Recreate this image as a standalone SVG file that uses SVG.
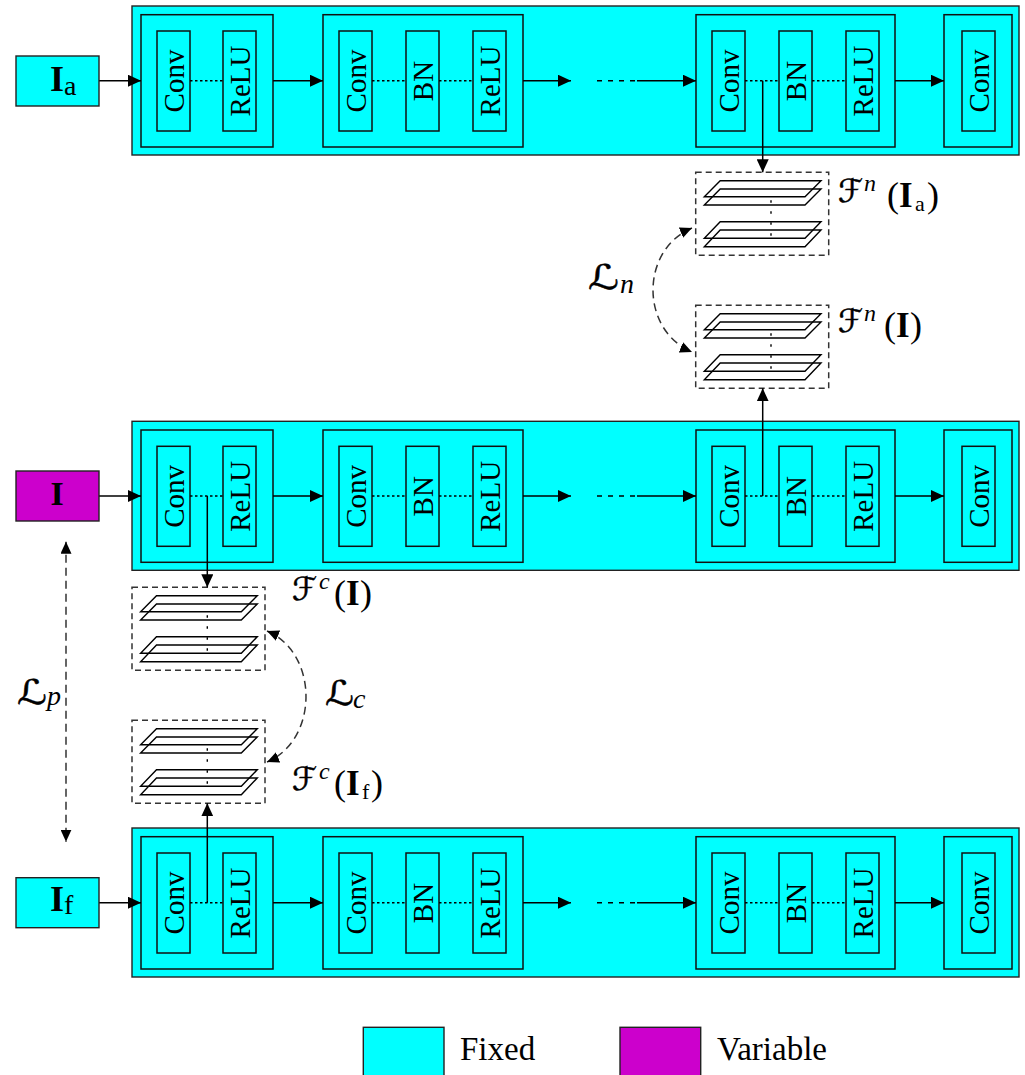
<svg xmlns="http://www.w3.org/2000/svg" xmlns:xlink="http://www.w3.org/1999/xlink" width="1025" height="1075" viewBox="0 0 1025 1075">
<style>
.outer{fill:#00FFFF;stroke:#222;stroke-width:1.4}
.blk{fill:#00FFFF;stroke:#111;stroke-width:1.5}
.lay{fill:#00FFFF;stroke:#111;stroke-width:1.5}
.var{fill:#CC00CC;stroke:#222;stroke-width:1.4}
.lbl{font-family:"Liberation Serif","Times New Roman",serif;font-size:29px;fill:#000}
.ar{stroke:#000;stroke-width:1.5;fill:none;marker-end:url(#ah)}
.dot{stroke:#000;stroke-width:1.5;stroke-dasharray:2.5 2.5;fill:none}
.dash{stroke:#000;stroke-width:1.5;stroke-dasharray:5 6;fill:none}
.dba{stroke:#333;stroke-width:1.5;stroke-dasharray:8 5;fill:none;marker-end:url(#ah2);marker-start:url(#ah2)}
.box{stroke:#333;stroke-width:1.5;stroke-dasharray:6 4;fill:none}
.pl{stroke:#000;stroke-width:1.4;fill:none}
.math{font-family:"Liberation Serif","Times New Roman",serif;fill:#000}
.scr{font-family:"DejaVu Serif","DejaVu Sans",serif;fill:#000;stroke:#000;stroke-width:0.5}
</style>
<defs>
<marker id="ah" markerUnits="userSpaceOnUse" markerWidth="13" markerHeight="12" refX="13" refY="6" orient="auto"><path d="M0,0 L13,6 L0,12 z" fill="#000"/></marker>
<marker id="ah2" markerUnits="userSpaceOnUse" markerWidth="12" markerHeight="11" refX="12" refY="5.5" orient="auto-start-reverse"><path d="M0,0 L12,5.5 L0,11 z" fill="#000"/></marker>
<g id="stack">
<rect class="box" x="0" y="0" width="133" height="83"/>
<path class="pl" d="M24.5,8.4 L125.3,8.4 L109.3,24.4 L8.6,24.4 Z"/>
<path class="pl" d="M24.5,16.7 L125.3,16.7 L109.3,32.7 L8.6,32.7 Z"/>
<path class="pl" d="M24.5,49.4 L125.3,49.4 L109.3,66 L8.6,66 Z"/>
<path class="pl" d="M24.5,57.7 L125.3,57.7 L109.3,74.4 L8.6,74.4 Z"/>
<line x1="75.3" y1="28" x2="75.3" y2="66" stroke="#000" stroke-width="1.4" stroke-dasharray="2.5 8.5"/>
</g>
<g id="row">
<rect class="outer" x="132" y="6" width="887" height="149"/>
<rect class="blk" x="141" y="14.7" width="132" height="132.3"/>
<rect class="lay" x="157" y="31" width="33" height="100"/>
<rect class="lay" x="223" y="31" width="33" height="100"/>
<rect class="blk" x="323" y="14.7" width="200" height="132.3"/>
<rect class="lay" x="339" y="31" width="33" height="100"/>
<rect class="lay" x="406" y="31" width="33" height="100"/>
<rect class="lay" x="473" y="31" width="33" height="100"/>
<rect class="blk" x="696" y="14.7" width="199" height="132.3"/>
<rect class="lay" x="712" y="31" width="33" height="100"/>
<rect class="lay" x="779" y="31" width="33" height="100"/>
<rect class="lay" x="846" y="31" width="33" height="100"/>
<rect class="blk" x="944" y="14.7" width="68" height="132.3"/>
<rect class="lay" x="962" y="31" width="33" height="100"/>
<text class="lbl" transform="translate(183.5,81) rotate(-90)" text-anchor="middle">Conv</text>
<text class="lbl" transform="translate(249.5,81) rotate(-90)" text-anchor="middle">ReLU</text>
<text class="lbl" transform="translate(365.5,81) rotate(-90)" text-anchor="middle">Conv</text>
<text class="lbl" transform="translate(432.5,81) rotate(-90)" text-anchor="middle">BN</text>
<text class="lbl" transform="translate(499.5,81) rotate(-90)" text-anchor="middle">ReLU</text>
<text class="lbl" transform="translate(738.5,81) rotate(-90)" text-anchor="middle">Conv</text>
<text class="lbl" transform="translate(805.5,81) rotate(-90)" text-anchor="middle">BN</text>
<text class="lbl" transform="translate(872.5,81) rotate(-90)" text-anchor="middle">ReLU</text>
<text class="lbl" transform="translate(988.5,81) rotate(-90)" text-anchor="middle">Conv</text>
<line class="dot" x1="190" y1="80.7" x2="223" y2="80.7"/>
<line class="dot" x1="372" y1="80.7" x2="406" y2="80.7"/>
<line class="dot" x1="439" y1="80.7" x2="473" y2="80.7"/>
<line class="dot" x1="745" y1="80.7" x2="779" y2="80.7"/>
<line class="dot" x1="812" y1="80.7" x2="846" y2="80.7"/>
<line class="ar" x1="273" y1="80.7" x2="323" y2="80.7"/>
<line class="ar" x1="523" y1="80.7" x2="571" y2="80.7"/>
<line class="dash" x1="597" y1="80.7" x2="637" y2="80.7"/>
<line class="ar" x1="637" y1="80.7" x2="696" y2="80.7"/>
<line class="ar" x1="895" y1="80.7" x2="944" y2="80.7"/>
<line class="ar" x1="99" y1="80.7" x2="141" y2="80.7"/>
</g>
</defs>

<g id="row-a"><use xlink:href="#row" href="#row"/></g>
<g id="row-i" transform="translate(0,415.3)"><use xlink:href="#row" href="#row"/></g>
<g id="row-f" transform="translate(0,822)"><use xlink:href="#row" href="#row"/></g>

<g id="input-a">
<rect class="outer" x="16" y="56" width="83" height="50"/>
<text class="math" x="50" y="90.5" font-size="36" font-weight="bold">I</text>
<text class="math" x="64" y="94.5" font-size="28">a</text>
</g>
<g id="input-i">
<rect class="var" x="16" y="471" width="83" height="50"/>
<text class="math" x="57" y="505" font-size="34" font-weight="bold" text-anchor="middle">I</text>
</g>
<g id="input-f">
<rect class="outer" x="16" y="877.7" width="83" height="50"/>
<text class="math" x="50" y="910.7" font-size="36" font-weight="bold">I</text>
<text class="math" x="64" y="914" font-size="28">f</text>
</g>

<g id="fn-ia"><use xlink:href="#stack" href="#stack" x="695.7" y="172.3"/>
<text class="scr" x="838" y="202" font-size="32" textLength="25" lengthAdjust="spacingAndGlyphs">ℱ</text>
<text class="math" x="864" y="191" font-size="24" font-style="italic">n</text>
<text class="math" x="887" y="207" font-size="36">(</text>
<text class="math" x="899" y="207" font-size="35" font-weight="bold">I</text>
<text class="math" x="915" y="211" font-size="22">a</text>
<text class="math" x="927" y="207" font-size="36">)</text>
</g>
<g id="fn-i"><use xlink:href="#stack" href="#stack" x="695.7" y="305.3"/>
<text class="scr" x="838" y="332" font-size="32" textLength="25" lengthAdjust="spacingAndGlyphs">ℱ</text>
<text class="math" x="864" y="321" font-size="24" font-style="italic">n</text>
<text class="math" x="884" y="337" font-size="36">(</text>
<text class="math" x="896" y="337" font-size="35" font-weight="bold">I</text>
<text class="math" x="910" y="337" font-size="36">)</text>
</g>
<g id="fc-i"><use xlink:href="#stack" href="#stack" x="132" y="587.3"/>
<text class="scr" x="292" y="600" font-size="32" textLength="25" lengthAdjust="spacingAndGlyphs">ℱ</text>
<text class="math" x="319" y="589" font-size="24" font-style="italic">c</text>
<text class="math" x="334" y="605" font-size="36">(</text>
<text class="math" x="346" y="605" font-size="35" font-weight="bold">I</text>
<text class="math" x="360" y="605" font-size="36">)</text>
</g>
<g id="fc-f"><use xlink:href="#stack" href="#stack" x="132" y="720.3"/>
<text class="scr" x="292" y="790" font-size="32" textLength="25" lengthAdjust="spacingAndGlyphs">ℱ</text>
<text class="math" x="319" y="779" font-size="24" font-style="italic">c</text>
<text class="math" x="334" y="795" font-size="36">(</text>
<text class="math" x="346" y="795" font-size="35" font-weight="bold">I</text>
<text class="math" x="362" y="799" font-size="22">f</text>
<text class="math" x="371" y="795" font-size="36">)</text>
</g>

<g id="connectors">
<line class="ar" x1="762.7" y1="80.7" x2="762.7" y2="172.3"/>
<line class="ar" x1="762.7" y1="496" x2="762.7" y2="388.3"/>
<line class="ar" x1="207.3" y1="496" x2="207.3" y2="587.3"/>
<line class="ar" x1="207.3" y1="902.7" x2="207.3" y2="803.3"/>
<path class="dba" d="M692,228 C640,250 640,330 692,352"/>
<path class="dba" d="M267,631 C319,653 319,740 267,762"/>
<line class="dba" x1="66" y1="541.7" x2="66" y2="841.7"/>
</g>

<g id="loss-n">
<text class="scr" x="588" y="289" font-size="34" textLength="31" lengthAdjust="spacingAndGlyphs">ℒ</text>
<text class="math" x="620" y="293" font-size="28" font-style="italic">n</text>
</g>
<g id="loss-c">
<text class="scr" x="325" y="705" font-size="34" textLength="29" lengthAdjust="spacingAndGlyphs">ℒ</text>
<text class="math" x="353" y="708" font-size="28" font-style="italic">c</text>
</g>
<g id="loss-p">
<text class="scr" x="17" y="704" font-size="34" textLength="30" lengthAdjust="spacingAndGlyphs">ℒ</text>
<text class="math" x="47" y="705" font-size="28" font-style="italic">p</text>
</g>

<g id="legend">
<rect class="outer" x="363.3" y="1027.3" width="80.7" height="60"/>
<text class="math" x="460" y="1060" font-size="33">Fixed</text>
<rect class="var" x="620" y="1027.3" width="80.7" height="60"/>
<text class="math" x="717" y="1060" font-size="33">Variable</text>
</g>
</svg>
